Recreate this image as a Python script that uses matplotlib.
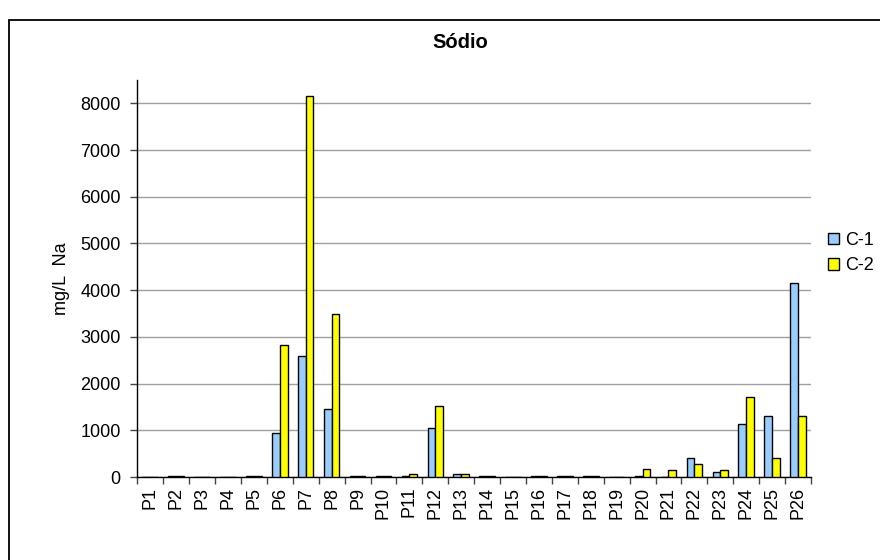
import matplotlib
matplotlib.use("Agg")
import matplotlib.pyplot as plt
import numpy as np
from matplotlib.patches import Rectangle, Patch

plt.rcParams['font.family'] = ['Liberation Sans', 'DejaVu Sans']

categories = [f"P{i}" for i in range(1, 27)]
c1 = [0, 20, 0, 0, 20, 950, 2590, 1450, 20, 20, 20, 1040, 60, 20, 0,
      20, 20, 20, 0, 20, 0, 410, 110, 1140, 1310, 4150]
c2 = [0, 20, 0, 0, 20, 2820, 8160, 3490, 20, 20, 60, 1510, 60, 20, 0,
      20, 20, 20, 0, 170, 140, 270, 140, 1710, 410, 1310]
series_names = ["C-1", "C-2"]
y_ticks = [0, 1000, 2000, 3000, 4000, 5000, 6000, 7000, 8000]

W, H = 880, 560
fs = 13
fig = plt.figure(figsize=(W / 100, H / 100), dpi=100)
ax = fig.add_axes([137.3 / W, 1 - 477 / H, (811 - 137.3) / W, (477 - 80) / H])

x = np.arange(len(categories))
bw = 0.3
colors = ["#99ccff", "#ffff00"]
ax.bar(x - bw / 2, c1, width=bw, color=colors[0], edgecolor="black", linewidth=1.0, zorder=3)
ax.bar(x + bw / 2, c2, width=bw, color=colors[1], edgecolor="black", linewidth=1.0, zorder=3)

ax.set_xlim(-0.5, len(categories) - 0.5)
ax.set_ylim(0, 8500)
ax.set_yticks(y_ticks)
ax.set_yticklabels([str(v) for v in y_ticks], fontsize=fs)
ax.yaxis.grid(True, color="#a0a0a0", linewidth=1.0, zorder=0)
ax.set_axisbelow(True)

ax.set_xticks(x)
ax.set_xticklabels(categories, rotation=90, fontsize=fs)
ax.set_xticks(np.arange(-0.5, len(categories), 1.0), minor=True)
ax.tick_params(axis="x", which="major", length=0, pad=7)
ax.tick_params(axis="x", which="minor", length=5, width=1.0, direction="out", color="#444444")
ax.tick_params(axis="y", length=5, width=1.0, direction="out", color="#444444", pad=7)

for side in ["top", "right"]:
    ax.spines[side].set_visible(False)
ax.spines["left"].set_linewidth(1.0)
ax.spines["bottom"].set_linewidth(1.0)

ax.set_ylabel("mg/L  Na", fontsize=fs, labelpad=7)
fig.text(460 / W, 1 - 42 / H, "Sódio", ha="center", va="center", fontsize=14.5, fontweight="bold")

handles = [Patch(facecolor=colors[i], edgecolor="black", linewidth=1.0) for i in range(2)]
fig.legend(handles, series_names, loc="center left", bbox_to_anchor=(821 / W, 1 - 253 / H),
           frameon=False, fontsize=fs, handlelength=0.62, handleheight=0.62,
           handletextpad=0.3, labelspacing=0.45, borderaxespad=0)

fig.add_artist(Rectangle((9 / W, -0.1), 1.2, 1 - 20 / H + 0.1, transform=fig.transFigure,
                         fill=False, edgecolor="black", linewidth=1.3))

fig.savefig("out.png", dpi=100)
